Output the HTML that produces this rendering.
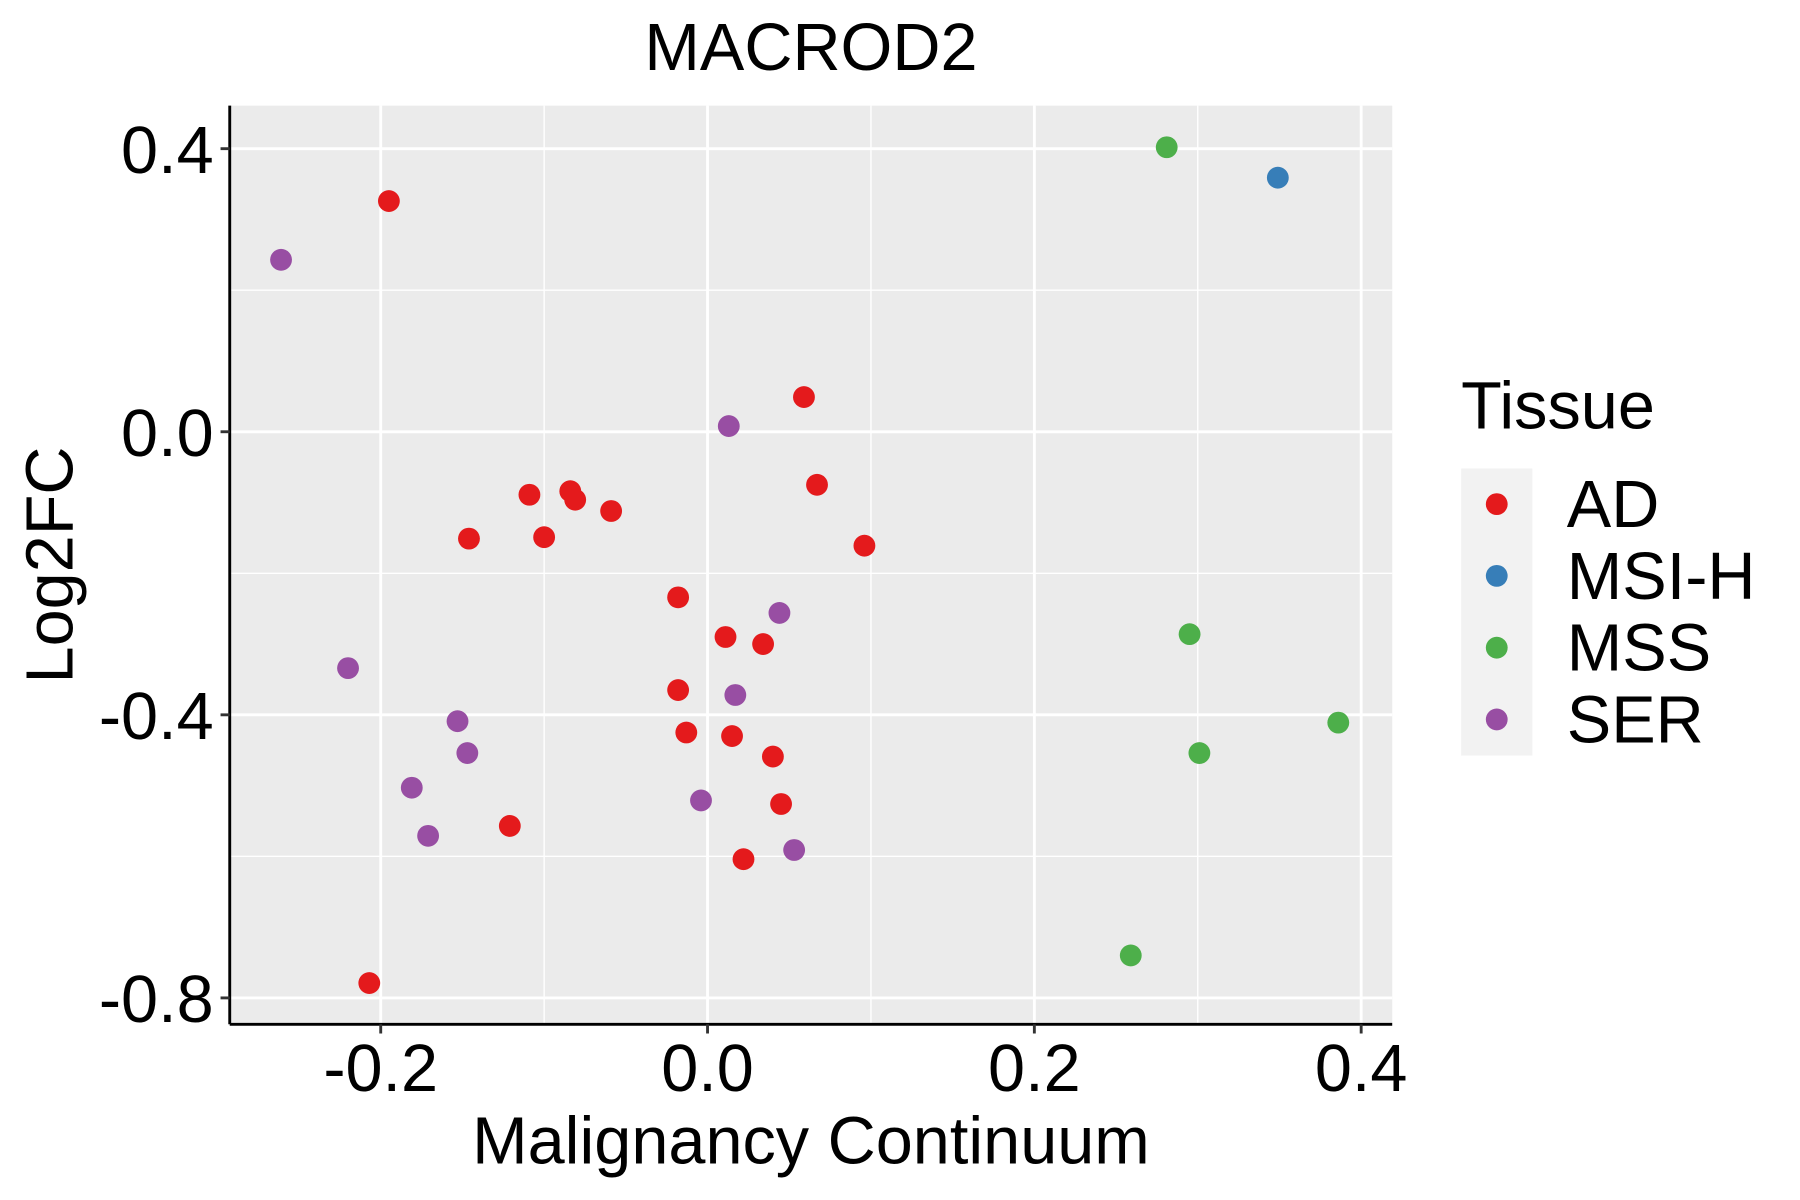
<!DOCTYPE html>
<html><head><meta charset="utf-8"><style>
html,body{margin:0;padding:0;background:#fff;}
svg{display:block;font-family:"Liberation Sans",sans-serif;}
</style></head><body>
<svg id="chart" width="1800" height="1200" viewBox="0 0 1567 1045" preserveAspectRatio="none" xmlns="http://www.w3.org/2000/svg">
<text x="706" y="61" font-size="58" text-anchor="middle">MACROD2</text>
<rect x="200" y="92" width="1012" height="800" fill="#ebebeb"/>
<g id="grid"></g>
<g id="points"></g>
<line x1="200" y1="92" x2="200" y2="892" stroke="#000" stroke-width="2.5"/>
<line x1="200" y1="892" x2="1212" y2="892" stroke="#000" stroke-width="2.5"/>
<g id="ticks"></g>
<text x="706" y="1013" font-size="58" text-anchor="middle">Malignancy Continuum</text>
<text transform="translate(63,492) rotate(-90)" font-size="58" text-anchor="middle">Log2FC</text>
<g>
<text x="1272" y="373" font-size="58">Tissue</text>
<rect x="1272" y="408" width="62" height="250" fill="#f2f2f2"/>
<g id="legend-entries"></g>
</g>
</svg>
<script>
const xTicks = [-0.2, 0.0, 0.2, 0.4];
const xTickLabels = ["-0.2", "0.0", "0.2", "0.4"];
const yTicks = [0.4, 0.0, -0.4, -0.8];
const yTickLabels = ["0.4", "0.0", "-0.4", "-0.8"];
const xMinor = [-0.3, -0.1, 0.1, 0.3];
const yMinor = [0.2, -0.2, -0.6];
const tissues = ["AD", "MSI-H", "MSS", "SER"];
const tissueColors = ["#e41a1c", "#377eb8", "#4daf4a", "#984ea3"];
const adX = [-0.195,0.059,0.067,-0.109,-0.084,-0.081,-0.059,-0.146,-0.100,0.096,-0.018,0.011,0.034,-0.018,-0.013,0.015,0.040,0.045,-0.121,0.022,-0.207];
const adY = [0.326,0.049,-0.075,-0.089,-0.084,-0.096,-0.112,-0.151,-0.149,-0.161,-0.234,-0.290,-0.300,-0.365,-0.425,-0.430,-0.459,-0.526,-0.557,-0.604,-0.779];
const msihX = [0.349];
const msihY = [0.359];
const mssX = [0.281,0.295,0.386,0.301,0.259];
const mssY = [0.402,-0.286,-0.411,-0.454,-0.740];
const serX = [-0.261,0.013,0.044,-0.220,0.017,-0.153,-0.147,-0.181,-0.004,-0.171,0.053];
const serY = [0.243,0.008,-0.256,-0.334,-0.372,-0.409,-0.454,-0.503,-0.521,-0.571,-0.591];

const NS = "http://www.w3.org/2000/svg";
const X0 = 200, X1 = 1212, Y0 = 92, Y1 = 892;
const xMin = -0.2924, xMax = 0.4190, yMin = -0.8373, yMax = 0.4608;
function sx(v){ return X0 + (v - xMin) / (xMax - xMin) * (X1 - X0); }
function sy(v){ return Y1 - (v - yMin) / (yMax - yMin) * (Y1 - Y0); }
function mk(tag, attrs, parent){ const e = document.createElementNS(NS, tag); for (const k in attrs) e.setAttribute(k, attrs[k]); parent.appendChild(e); return e; }

const grid = document.getElementById('grid');
xMinor.forEach(v => { const l = mk('line', {x1:sx(v), x2:sx(v), y1:Y0, y2:Y1, stroke:'#fff', 'stroke-width':1.2}, grid);
  
   });
yMinor.forEach(v => { const l = mk('line', {x1:X0, x2:X1, y1:sy(v), y2:sy(v), stroke:'#fff', 'stroke-width':1.2}, grid);
  
   });
xTicks.forEach(v => { const l = mk('line', {x1:sx(v), x2:sx(v), y1:Y0, y2:Y1, stroke:'#fff', 'stroke-width':2.5}, grid);
  
   });
yTicks.forEach(v => { const l = mk('line', {x1:X0, x2:X1, y1:sy(v), y2:sy(v), stroke:'#fff', 'stroke-width':2.5}, grid);
  
   });

const ticks = document.getElementById('ticks');
xTicks.forEach((v, i) => {
  const t = mk('line', {x1:sx(v), x2:sx(v), y1:Y1, y2:Y1+8, stroke:'#333', 'stroke-width':2.5}, ticks);
  
  
  const tx = mk('text', {x:sx(v), y:950, 'font-size':58, 'text-anchor':'middle'}, ticks);
  tx.textContent = xTickLabels[i];
  
  
});
yTicks.forEach((v, i) => {
  const t = mk('line', {x1:X0-8, x2:X0, y1:sy(v), y2:sy(v), stroke:'#333', 'stroke-width':2.5}, ticks);
  
  
  const tx = mk('text', {x:186, y:sy(v)+21, 'font-size':58, 'text-anchor':'end'}, ticks);
  tx.textContent = yTickLabels[i];
  
  
});

const pts = document.getElementById('points');
const series = [[adX, adY], [msihX, msihY], [mssX, mssY], [serX, serY]];
series.forEach((s, si) => {
  s[0].forEach((xv, i) => {
    const c = mk('circle', {cx:sx(xv), cy:sy(s[1][i]), r:9.5, fill:tissueColors[si]}, pts);
    
    
  });
});

const leg = document.getElementById('legend-entries');
tissues.forEach((t, i) => {
  const cy = 439 + i * 62.5;
  const c = mk('circle', {cx:1303, cy:cy, r:9.5, fill:tissueColors[i]}, leg);
  
  
  const tx = mk('text', {x:1364, y:cy+20, 'font-size':58}, leg);
  tx.textContent = t;
  
  
});
</script>
</body></html>
